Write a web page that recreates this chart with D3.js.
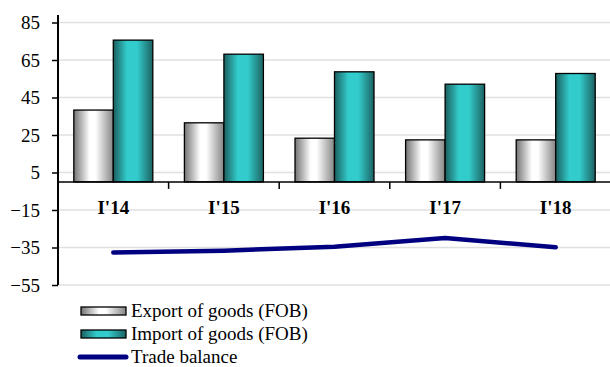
<!DOCTYPE html>
<html><head><meta charset="utf-8">
<script src="https://cdn.jsdelivr.net/npm/d3@7"></script>
<style>body{margin:0;background:#fff}svg{display:block}</style>
</head><body>
<script>
const categories = ["I'14","I'15","I'16","I'17","I'18"];
const exportVals = [38.3, 31.5, 23.3, 22.4, 22.4];
const importVals = [75.6, 68.1, 58.7, 52.1, 57.8];
const balanceVals = [-37.7, -36.7, -34.6, -29.9, -34.9];
const yTicks = [85, 65, 45, 25, 5, -15, -35, -55];
const legendLabels = ["Export of goods (FOB)", "Import of goods (FOB)", "Trade balance"];

const W = 610, H = 367;
const svg = d3.select("body").append("svg").attr("width", W).attr("height", H);
const font = "'Liberation Serif','Times New Roman',serif";

const defs = svg.append("defs");
const gExp = defs.append("linearGradient").attr("id","gExp").attr("x1","0").attr("x2","1").attr("y1","0").attr("y2","0");
[["0%","#737373"],["40%","#ffffff"],["55%","#ffffff"],["100%","#858585"]].forEach(s=>gExp.append("stop").attr("offset",s[0]).attr("stop-color",s[1]));
const gImp = defs.append("linearGradient").attr("id","gImp").attr("x1","0").attr("x2","1").attr("y1","0").attr("y2","0");
[["0%","#1b5f5f"],["35%","#33cccc"],["60%","#33cccc"],["100%","#1d6262"]].forEach(s=>gImp.append("stop").attr("offset",s[0]).attr("stop-color",s[1]));

const x0 = 58, x1 = 611;
const x = d3.scaleBand().domain(categories).range([x0, x1]).paddingInner(0).paddingOuter(0);
const y = d3.scaleLinear().domain([-55, 89]).range([285, 15]);

// gridlines
svg.append("g").selectAll("line").data(yTicks).join("line")
  .attr("x1", x0).attr("x2", W).attr("y1", d=>y(d)).attr("y2", d=>y(d))
  .attr("stroke", "#e0e0e0").attr("stroke-width", 1.5);

// y axis
const yAxis = svg.append("g").attr("transform", `translate(${x0},0)`)
  .call(d3.axisLeft(y).tickValues(yTicks).tickSize(6).tickPadding(12).tickFormat(d3.format("d")));
yAxis.select(".domain").remove();
yAxis.selectAll(".tick line").attr("stroke","#000").attr("stroke-width",1.5);
yAxis.selectAll("text").attr("font-family", font).attr("font-size", 19).attr("fill","#000");
svg.append("line").attr("x1", x0).attr("x2", x0).attr("y1", 15).attr("y2", y(-55))
  .attr("stroke","#000").attr("stroke-width",2);

// bars
const bw = 39.5;
const groups = svg.append("g").selectAll("g").data(categories).join("g");
groups.append("rect")
  .attr("x", (d)=>x(d) + x.bandwidth()/2 - bw)
  .attr("y", (d,i)=>y(exportVals[i])).attr("width", bw)
  .attr("height", (d,i)=>y(0)-y(exportVals[i]))
  .attr("fill","url(#gExp)").attr("stroke","#000").attr("stroke-width",1.3);
groups.append("rect")
  .attr("x", (d)=>x(d) + x.bandwidth()/2)
  .attr("y", (d,i)=>y(importVals[i])).attr("width", bw)
  .attr("height", (d,i)=>y(0)-y(importVals[i]))
  .attr("fill","url(#gImp)").attr("stroke","#000").attr("stroke-width",1.3);

// x axis at zero
svg.append("line").attr("x1", x0).attr("x2", W).attr("y1", y(0)).attr("y2", y(0))
  .attr("stroke","#000").attr("stroke-width",1.5);
svg.append("g").selectAll("line").data(categories.slice(1)).join("line")
  .attr("x1", d=>x(d)).attr("x2", d=>x(d)).attr("y1", y(0)).attr("y2", y(0)+7)
  .attr("stroke","#000").attr("stroke-width",1.5);
svg.append("g").selectAll("text").data(categories).join("text")
  .attr("x", d=>x(d)+x.bandwidth()/2).attr("y", 214)
  .attr("text-anchor","middle").attr("font-family", font).attr("font-size", 19)
  .attr("font-weight","bold").text(d=>d);

// line
const line = d3.line().x((d,i)=>x(categories[i])+x.bandwidth()/2).y(d=>y(d));
svg.append("path").datum(balanceVals).attr("d", line)
  .attr("fill","none").attr("stroke","#000080").attr("stroke-width",4.5)
  .attr("stroke-linecap","round").attr("stroke-linejoin","round");

// legend
const lg = svg.append("g");
const rowsY = [311, 334, 357];
lg.append("rect").attr("x",81).attr("y",rowsY[0]-4).attr("width",45).attr("height",8)
  .attr("fill","url(#gExp)").attr("stroke","#000").attr("stroke-width",1.3);
lg.append("rect").attr("x",81).attr("y",rowsY[1]-4).attr("width",45).attr("height",8)
  .attr("fill","url(#gImp)").attr("stroke","#000").attr("stroke-width",1.3);
lg.append("line").attr("x1",80).attr("x2",126).attr("y1",rowsY[2]).attr("y2",rowsY[2])
  .attr("stroke","#000080").attr("stroke-width",5).attr("stroke-linecap","round");
lg.selectAll("text").data(legendLabels).join("text")
  .attr("x",131).attr("y",(d,i)=>rowsY[i]+6)
  .attr("font-family", font).attr("font-size", 19).text(d=>d);
</script>
</body></html>
